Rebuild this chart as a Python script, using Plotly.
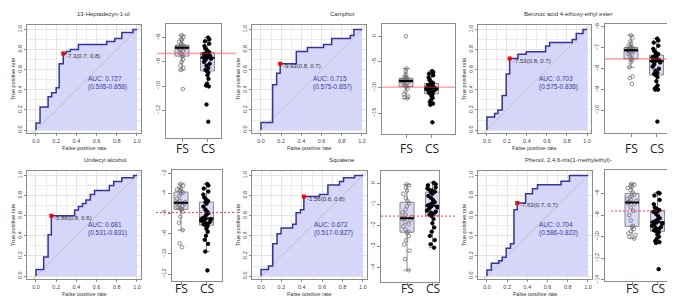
import plotly.graph_objects as go
import numpy as np

W, H = 675, 296

# ---------------- data ----------------
titles = ["13-Heptadecyn-1-ol", "Camphor", "Benzoic acid 4-ethoxy-ethyl ester",
          "Undecyl alcohol", "Squalene", "Phenol, 2,4,6-tris(1-methylethyl)-"]

fpr_1 = [0, 0, 0.04, 0.12, 0.155, 0.2, 0.23, 0.27, 0.3, 0.34, 0.42, 0.7, 0.78, 0.85, 0.96, 1.0]
tpr_1 = [0, 0.07, 0.23, 0.33, 0.37, 0.42, 0.66, 0.76, 0.78, 0.8, 0.85, 0.88, 0.91, 0.97, 1.0, 1.0]
fpr_2 = [0, 0, 0.115, 0.155, 0.19, 0.35, 0.46, 0.62, 0.7, 0.885, 0.92, 1.0]
tpr_2 = [0, 0.075, 0.45, 0.565, 0.66, 0.78, 0.82, 0.85, 0.91, 0.94, 1.0, 1.0]
fpr_3 = [0, 0, 0.077, 0.11, 0.153, 0.193, 0.227, 0.31, 0.393, 0.587, 0.627, 0.853, 0.893, 0.96, 1.0]
tpr_3 = [0, 0.13, 0.164, 0.2, 0.344, 0.557, 0.71, 0.754, 0.777, 0.836, 0.87, 0.9, 0.96, 1.0, 1.0]
fpr_4 = [0, 0, 0.076, 0.12, 0.152, 0.383, 0.42, 0.46, 0.495, 0.538, 0.58, 0.726, 0.77, 0.85, 0.967, 1.0]
tpr_4 = [0, 0.066, 0.19, 0.41, 0.6, 0.656, 0.69, 0.72, 0.755, 0.81, 0.85, 0.9, 0.94, 0.977, 1.0, 1.0]
fpr_5 = [0, 0, 0.072, 0.115, 0.157, 0.197, 0.31, 0.344, 0.387, 0.42, 0.574, 0.656, 0.77, 0.81, 0.918, 1.0]
tpr_5 = [0, 0.066, 0.1, 0.32, 0.42, 0.477, 0.516, 0.63, 0.66, 0.79, 0.81, 0.905, 0.94, 0.977, 1.0, 1.0]
fpr_6 = [0, 0, 0.043, 0.117, 0.15, 0.19, 0.233, 0.267, 0.3, 0.383, 0.45, 0.5, 0.733, 0.817, 1.0]
tpr_6 = [0, 0.06, 0.127, 0.153, 0.187, 0.277, 0.32, 0.66, 0.727, 0.817, 0.867, 0.907, 0.943, 1.0, 1.0]

cut_index = [7, 4, 6, 4, 9, 8]
cut_value = [-7.3, -9.93, -7.53, -5.88, -1.56, -7.63]
cut_label = ["-7.3(0.7, 0.8)", "-9.93(0.8, 0.7)", "-7.53(0.8, 0.7)",
             "-5.88(0.8, 0.6)", "-1.56(0.6, 0.8)", "-7.63(0.7, 0.7)"]
auc_text = ["AUC: 0.727", "AUC: 0.715", "AUC: 0.703", "AUC: 0.681", "AUC: 0.672", "AUC: 0.704"]
auc_ci = ["(0.595-0.858)", "(0.575-0.857)", "(0.575-0.836)", "(0.531-0.831)", "(0.517-0.827)", "(0.586-0.822)"]

group_labels = ["FS", "CS"]

fs_1 = [-5.8, -5.95, -6.1, -6.2, -6.35, -6.5, -6.6, -6.68, -6.7, -6.72, -6.75, -6.78, -6.8, -6.82,
        -6.84, -6.9, -7.0, -7.1, -7.2, -7.35, -7.5, -7.55, -7.8, -8.0, -8.3, -8.5, -8.67, -10.24]
cs_1 = [-6.0, -6.15, -6.3, -6.5, -6.7, -6.9, -7.05, -7.2, -7.25, -7.3, -7.35, -7.4, -7.45, -7.5,
        -7.55, -7.6, -7.65, -7.68, -7.75, -7.85, -8.0, -8.15, -8.3, -8.5, -8.65, -8.75, -8.9, -9.1,
        -9.4, -9.8, -9.95, -10.03, -11.52, -12.94]
fs_2 = [0.0, -6.26, -6.8, -7.4, -7.8, -8.0, -8.15, -8.2, -8.3, -8.4, -8.5, -8.6, -8.65, -8.7,
        -8.72, -8.8, -8.9, -9.0, -9.2, -9.5, -9.75, -9.85, -10.2, -10.8, -11.3, -11.7, -11.9, -12.1]
cs_2 = [-6.77, -7.0, -7.3, -7.6, -8.0, -8.5, -8.9, -9.1, -9.2, -9.35, -9.5, -9.65, -9.8, -9.9,
        -10.0, -10.05, -10.1, -10.15, -10.25, -10.3, -10.35, -10.5, -10.7, -10.9, -11.0, -11.2,
        -11.3, -11.6, -12.0, -12.4, -12.8, -13.1, -13.35, -16.77]
fs_3 = [-6.4, -6.55, -6.7, -6.8, -6.9, -6.95, -6.98, -7.0, -7.02, -7.04, -7.06, -7.08, -7.1, -7.11,
        -7.12, -7.15, -7.2, -7.25, -7.3, -7.4, -7.5, -7.55, -7.6, -7.7, -7.93, -8.37, -8.45, -8.73]
cs_3 = [-6.56, -6.65, -6.75, -6.9, -7.05, -7.15, -7.25, -7.3, -7.35, -7.4, -7.45, -7.5, -7.55,
        -7.58, -7.6, -7.62, -7.63, -7.64, -7.7, -7.8, -7.9, -8.0, -8.1, -8.2, -8.25, -8.3, -8.4,
        -8.6, -8.8, -8.9, -8.95, -9.0, -9.0, -10.53]
fs_4 = [-3.05, -3.2, -3.35, -3.5, -3.6, -3.7, -3.8, -3.9, -4.0, -4.2, -4.5, -4.7, -4.85, -4.9,
        -4.95, -5.05, -5.15, -5.25, -5.35, -5.45, -5.55, -5.6, -5.8, -6.3, -6.9, -7.64, -8.95, -9.34]
cs_4 = [-3.05, -3.2, -3.5, -3.8, -4.1, -4.4, -4.6, -4.75, -4.85, -5.0, -5.3, -5.6, -5.8, -5.95,
        -6.1, -6.3, -6.45, -6.52, -6.55, -6.6, -6.7, -6.8, -6.9, -7.0, -7.05, -7.15, -7.25, -7.5,
        -7.8, -8.2, -8.6, -9.0, -9.77, -11.64]
fs_5 = [-0.06, -0.1, -0.2, -0.35, -0.5, -0.7, -0.85, -0.95, -1.1, -1.25, -1.4, -1.5, -1.6, -1.65,
        -1.68, -1.75, -1.85, -1.95, -2.05, -2.2, -2.3, -2.35, -2.5, -2.7, -2.9, -3.2, -3.6, -4.13]
cs_5 = [0.02, -0.05, -0.1, -0.2, -0.25, -0.3, -0.35, -0.4, -0.42, -0.5, -0.6, -0.7, -0.8, -0.9,
        -0.95, -1.0, -1.05, -1.1, -1.15, -1.2, -1.3, -1.35, -1.4, -1.45, -1.5, -1.55, -1.7, -1.9,
        -2.1, -2.3, -2.5, -2.7, -2.9, -3.06]
fs_6 = [-5.12, -5.2, -5.3, -5.4, -5.5, -5.7, -5.9, -6.1, -6.2, -6.35, -6.5, -6.6, -6.7, -6.8,
        -6.9, -7.0, -7.3, -7.6, -8.0, -8.5, -9.0, -9.1, -9.3, -9.5, -9.7, -9.85, -10.0, -10.18]
cs_6 = [-5.94, -6.0, -6.2, -6.6, -7.0, -7.3, -7.45, -7.55, -7.6, -7.65, -7.7, -7.9, -8.1, -8.3,
        -8.45, -8.55, -8.65, -8.7, -8.8, -8.9, -9.0, -9.1, -9.2, -9.3, -9.4, -9.5, -9.6, -9.8,
        -10.0, -10.2, -10.4, -10.5, -10.58, -13.0]

box_ticks_1 = [-6, -8, -10, -12]
box_ticks_2 = [0, -5, -10, -15]
box_ticks_3 = [-6, -7, -8, -9, -10]
box_ticks_4 = [-2, -4, -6, -8, -10, -12]
box_ticks_5 = [0, -1, -2, -3, -4]
box_ticks_6 = [-6, -8, -10, -12, -14]
roc_ticks = [0.0, 0.2, 0.4, 0.6, 0.8, 1.0]

# ---------------- layout geometry (pixels) ----------------
roc_x = [(19, 133), (244, 358), (470, 583), (19, 133), (244, 359), (470, 584)]
roc_y = [(16, 126), (16, 126), (16, 126), (164, 274), (164, 274), (164, 274)]
box_x = [(158, 213), (374, 447), (597, 672), (164, 214), (373, 431), (597, 664)]
box_y = [(15, 131), (15, 127), (15, 126), (163, 276), (164, 277), (163, 276)]
fs_px = [174, 398, 623, 173, 399, 624]
group_label_y = [141, 141, 141, 283, 283, 283]
box_yrange = [(-14.3, -4.86), (-19.1, 2.45), (-11.09, -5.85), (-12.72, -1.64), (-4.70, 0.59), (-14.12, -3.82)]
thr_ext = [(-0.16, 1.27), (0.0, 1.0), (0.0, 1.04), (-0.32, 1.28), (0.0, 1.29), (0.09, 1.16)]
title_px = [(95, 5), (334, 5), (560, 5), (97, 153), (334, 153), (560, 153)]

rocs = [(fpr_1, tpr_1), (fpr_2, tpr_2), (fpr_3, tpr_3), (fpr_4, tpr_4), (fpr_5, tpr_5), (fpr_6, tpr_6)]
groups = [(fs_1, cs_1), (fs_2, cs_2), (fs_3, cs_3), (fs_4, cs_4), (fs_5, cs_5), (fs_6, cs_6)]
box_ticks = [box_ticks_1, box_ticks_2, box_ticks_3, box_ticks_4, box_ticks_5, box_ticks_6]


def xd(a, b):
    return [a / W, b / W]


def yd(top, bottom):
    return [1 - bottom / H, 1 - top / H]


FONT = "Liberation Sans, Arial, sans-serif"
LABEL_FONT = "Open Sans, Liberation Sans, sans-serif"
FRAME = "#8c8c8c"
TICKF = dict(family=FONT, size=5.5, color="#444")

fig = go.Figure()
layout = dict(width=W, height=H, margin=dict(l=0, r=0, t=0, b=0),
              paper_bgcolor="white", plot_bgcolor="white", showlegend=False,
              font=dict(family=FONT, size=6, color="#333"))
annotations = []
shapes = []

PX_PER_UNIT = 25.5
BOXW = 0.55

for k in range(6):
    nr, nb = 2 * k + 1, 2 * k + 2
    xr = "x" if nr == 1 else f"x{nr}"
    yr = "y" if nr == 1 else f"y{nr}"
    xb, yb = f"x{nb}", f"y{nb}"
    fpr, tpr = rocs[k]

    # ---- ROC panel ----
    fig.add_trace(go.Scatter(x=fpr, y=tpr, mode="lines", xaxis=xr, yaxis=yr,
                             line=dict(width=0, shape="hv"), fill="tozeroy",
                             fillcolor="#D6D6F8", hoverinfo="skip"))
    fig.add_trace(go.Scatter(x=[-1, 2], y=[-1, 2], mode="lines", xaxis=xr, yaxis=yr,
                             line=dict(color="#BDBDBD", width=0.8), hoverinfo="skip"))
    fig.add_trace(go.Scatter(x=fpr, y=tpr, mode="lines", xaxis=xr, yaxis=yr,
                             line=dict(color="#34349C", width=1.5, shape="hv")))
    ci = cut_index[k]
    fig.add_trace(go.Scatter(x=[fpr[ci]], y=[tpr[ci]], mode="markers", xaxis=xr, yaxis=yr,
                             marker=dict(color="red", size=4, symbol="square")))
    annotations.append(dict(x=fpr[ci], y=tpr[ci], xref=xr, yref=yr, text=cut_label[k],
                            showarrow=False, xanchor="left", yanchor="middle", xshift=1, yshift=-2,
                            font=dict(family=FONT, size=6, color="#333")))
    annotations.append(dict(x=0.5, y=0.465, xref=xr, yref=yr,
                            text=auc_text[k] + "<br>" + auc_ci[k], align="left",
                            showarrow=False, xanchor="left", yanchor="middle",
                            font=dict(family=FONT, size=6.5, color="#3B3BA8")))

    ax_common = dict(showline=True, mirror=True, linecolor=FRAME, linewidth=1,
                     ticks="outside", ticklen=2, tickcolor=FRAME, tickfont=TICKF,
                     zeroline=False, fixedrange=True)
    layout["xaxis" if nr == 1 else f"xaxis{nr}"] = dict(
        ax_common, domain=xd(*roc_x[k]), anchor=yr, range=[-0.089, 1.04],
        tickvals=roc_ticks, tickformat=".1f", showgrid=True, gridcolor="#E4E4E4", gridwidth=0.6,
        minor=dict(dtick=0.1, tick0=0, showgrid=True, gridcolor="#ECECEC", gridwidth=0.6))
    layout["yaxis" if nr == 1 else f"yaxis{nr}"] = dict(
        ax_common, domain=yd(*roc_y[k]), anchor=xr, range=[-0.032, 1.046],
        tickvals=roc_ticks, tickformat=".1f", tickangle=-90, showgrid=True, gridcolor="#E4E4E4",
        gridwidth=0.6, minor=dict(dtick=0.1, tick0=0, showgrid=True, gridcolor="#ECECEC", gridwidth=0.6))

    x0, x1 = roc_x[k]
    y0, y1 = roc_y[k]
    annotations.append(dict(x=(x0 + x1) / 2 / W, y=1 - (y1 + 15) / H, xref="paper", yref="paper",
                            text="False positive rate", showarrow=False, xanchor="center",
                            yanchor="middle", font=dict(family=FONT, size=5.5, color="#333")))
    annotations.append(dict(x=(x0 - 14) / W, y=1 - (y0 + y1) / 2 / H, xref="paper", yref="paper",
                            text="True positive rate", showarrow=False, textangle=-90,
                            xanchor="center", yanchor="middle",
                            font=dict(family=FONT, size=5.5, color="#333")))
    tx, ty = title_px[k]
    annotations.append(dict(x=tx / W, y=1 - ty / H, xref="paper", yref="paper", text=titles[k],
                            showarrow=False, xanchor="center", yanchor="middle",
                            font=dict(family=FONT, size=6, color="#333")))

    # ---- box panel ----
    fs, cs = groups[k]
    for gi, (vals, sym, col) in enumerate([(fs, "circle-open", "#707070"), (cs, "circle", "black")]):
        pos = gi + 1
        fig.add_trace(go.Box(y=vals, x0=pos, xaxis=xb, yaxis=yb, width=BOXW,
                             boxpoints="all", jitter=0.8, pointpos=0, whiskerwidth=0.5,
                             fillcolor="#D9D9F7", line=dict(color="#8A8A8A", width=1),
                             marker=dict(symbol=sym, color=col, size=3.6,
                                         line=dict(width=0.8, color=col))))
        med = float(np.median(vals))
        fig.add_trace(go.Scatter(x=[pos - BOXW / 2, pos + BOXW / 2], y=[med, med], mode="lines",
                                 xaxis=xb, yaxis=yb, line=dict(color="black", width=2),
                                 hoverinfo="skip"))
        annotations.append(dict(x=pos, y=1 - group_label_y[k] / H, xref=xb, yref="paper",
                                text=group_labels[gi], showarrow=False, xanchor="center",
                                yanchor="middle",
                                font=dict(family=LABEL_FONT, size=12, color="#222")))

    a, b = box_x[k]
    f = fs_px[k]
    xrange = [1 - (f - a) / PX_PER_UNIT, 1 + (b - f) / PX_PER_UNIT]
    layout[f"xaxis{nb}"] = dict(domain=xd(a, b), anchor=yb, range=xrange, type="linear",
                                showline=True, mirror=True, linecolor=FRAME, linewidth=1,
                                ticks="outside", ticklen=3, tickcolor=FRAME,
                                tickvals=[1, 2], showticklabels=False,
                                showgrid=False, zeroline=False, fixedrange=True)
    layout[f"yaxis{nb}"] = dict(domain=yd(*box_y[k]), anchor=xb, range=list(box_yrange[k]),
                                showline=True, mirror=True, linecolor=FRAME, linewidth=1,
                                ticks="outside", ticklen=3, tickcolor=FRAME,
                                tickvals=box_ticks[k], tickangle=-90, tickfont=TICKF,
                                showgrid=False, zeroline=False, fixedrange=True)

    e0, e1 = thr_ext[k]
    if k < 3:
        ln = dict(color="rgba(255,60,60,0.45)", width=1.6)
    else:
        ln = dict(color="rgba(255,30,30,0.85)", width=1, dash="2px,2px")
    shapes.append(dict(type="line", xref=f"x{nb} domain", yref=yb, x0=e0, x1=e1,
                       y0=cut_value[k], y1=cut_value[k], line=ln, layer="above"))

layout["annotations"] = annotations
layout["shapes"] = shapes
fig.update_layout(**layout)
fig.write_html("out.html")
